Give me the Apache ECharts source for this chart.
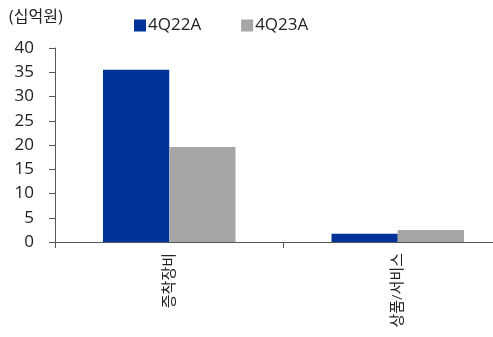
<!DOCTYPE html>
<html>
<head>
<meta charset="utf-8">
<script src="https://cdn.jsdelivr.net/npm/echarts@6/dist/echarts.min.js"></script>
<style>
  html, body { margin: 0; padding: 0; background: #fff; overflow: hidden; width: 493px; height: 337px; }
  #chart { width: 512px; height: 337px; }
</style>
</head>
<body>
<div id="chart"></div>
<script>
const categories = ['증착장비', '상품/서비스'];
const seriesNames = ['4Q22A', '4Q23A'];
const values4Q22A = [35.5, 1.7];
const values4Q23A = [19.6, 2.5];
const yTicks = { min: 0, max: 40, interval: 5 };

// the x axis runs past the right edge of the picture, so the canvas is wider than the window
const chart = echarts.init(document.getElementById('chart'), null, { renderer: 'canvas' });
const font = '"Open Sans", "Noto Sans CJK KR", sans-serif';

chart.setOption({
  animation: false,
  backgroundColor: '#fff',
  textStyle: { fontFamily: font },
  grid: { left: 55, right: 0, top: 48, bottom: 95, containLabel: false },
  graphic: [{
    type: 'text',
    left: 9,
    top: 9,
    style: { text: '(십억원)', fontSize: 16, fill: '#222', fontFamily: font }
  }],
  legend: {
    top: 12,
    left: 129,
    itemWidth: 12,
    itemHeight: 12,
    itemGap: 40,
    icon: 'rect',
    textStyle: { fontSize: 17, color: '#222', padding: [0, 0, 0, -3] },
    data: seriesNames
  },
  xAxis: {
    type: 'category',
    data: categories,
    axisLine: { lineStyle: { color: '#555', width: 1 } },
    axisTick: { show: true, length: 6, lineStyle: { color: '#555' } },
    axisLabel: { rotate: 90, fontSize: 15, color: '#222', margin: 11 }
  },
  yAxis: {
    type: 'value',
    min: yTicks.min,
    max: yTicks.max,
    interval: yTicks.interval,
    splitLine: { show: false },
    axisLine: { show: true, lineStyle: { color: '#555', width: 1 } },
    axisTick: { show: true, length: 6, lineStyle: { color: '#555' } },
    axisLabel: { fontSize: 17, color: '#222', margin: 21 }
  },
  series: [
    {
      name: seriesNames[0],
      type: 'bar',
      data: values4Q22A,
      barGap: '0%',
      barCategoryGap: '42%',
      itemStyle: { color: '#003399' }
    },
    {
      name: seriesNames[1],
      type: 'bar',
      data: values4Q23A,
      itemStyle: { color: '#a6a6a6' }
    }
  ]
});
</script>
</body>
</html>
